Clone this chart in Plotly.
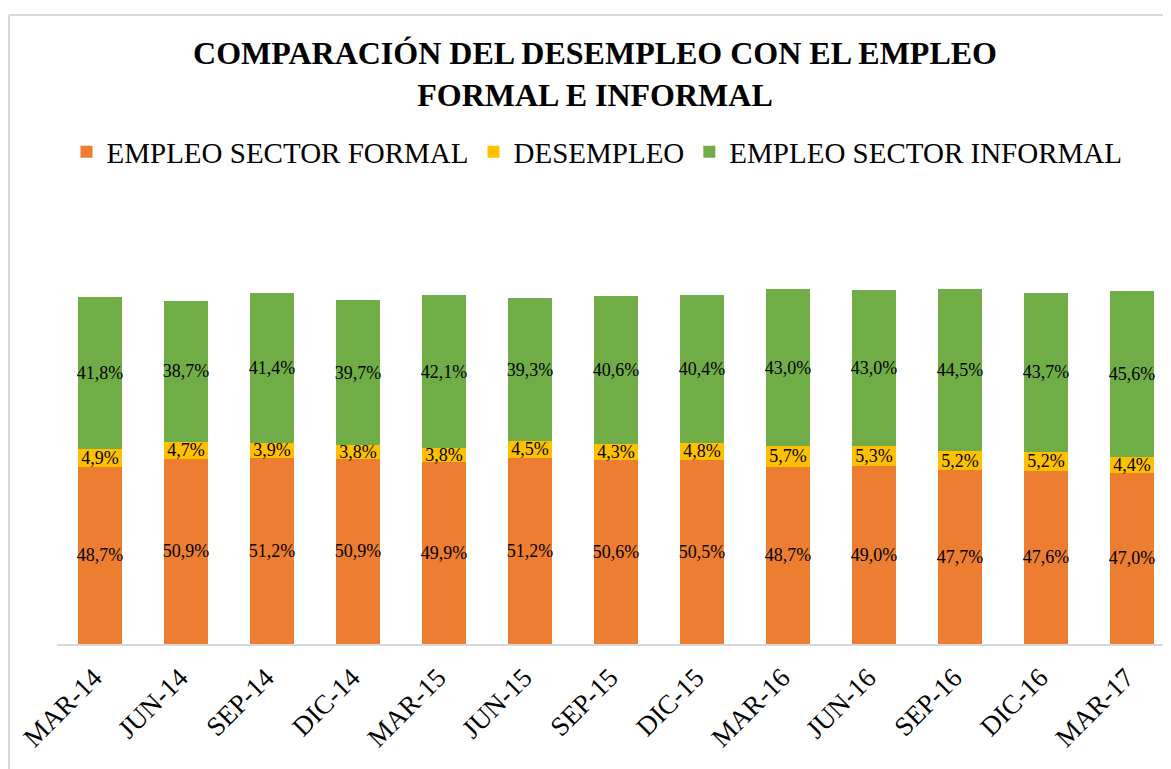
import plotly.graph_objects as go

categories = ["MAR-14", "JUN-14", "SEP-14", "DIC-14", "MAR-15", "JUN-15", "SEP-15",
              "DIC-15", "MAR-16", "JUN-16", "SEP-16", "DIC-16", "MAR-17"]
formal = [48.7, 50.9, 51.2, 50.9, 49.9, 51.2, 50.6, 50.5, 48.7, 49.0, 47.7, 47.6, 47.0]
desempleo = [4.9, 4.7, 3.9, 3.8, 3.8, 4.5, 4.3, 4.8, 5.7, 5.3, 5.2, 5.2, 4.4]
informal = [41.8, 38.7, 41.4, 39.7, 42.1, 39.3, 40.6, 40.4, 43.0, 43.0, 44.5, 43.7, 45.6]

series = [
    ("EMPLEO SECTOR FORMAL", formal, "#ED7D31"),
    ("DESEMPLEO", desempleo, "#FFC000"),
    ("EMPLEO SECTOR INFORMAL", informal, "#70AD47"),
]

FONT = "Liberation Serif, Times New Roman, serif"

fig = go.Figure()
for name, vals, color in series:
    fig.add_trace(go.Bar(
        name=name, x=categories, y=vals,
        marker=dict(color=color, line=dict(width=0)),
        text=[f"{v:.1f}%".replace(".", ",") for v in vals],
        textposition="inside", insidetextanchor="middle",
        constraintext="none", textangle=0, cliponaxis=False,
        textfont=dict(family=FONT, size=18, color="#000000"),
    ))

W, H = 1163, 761
L, R, T, B = 49, 0, 199, 125
pw, ph = W - L - R, H - T - B

fig.update_layout(
    width=W, height=H,
    barmode="stack", bargap=0.49,
    paper_bgcolor="white", plot_bgcolor="white",
    margin=dict(l=L, r=R, t=T, b=B, pad=0),
    font=dict(family=FONT, color="#000000"),
    title=dict(
        text="COMPARACIÓN DEL DESEMPLEO CON EL EMPLEO<br>FORMAL E INFORMAL",
        font=dict(family=FONT, size=32, color="#000000", weight="bold"),
        x=587 / W, xanchor="center", xref="container",
        y=1 - 56 / H, yanchor="middle", yref="container",
    ),
    legend=dict(
        orientation="h", x=589 / W, xanchor="center", xref="container",
        y=1 - 144 / H, yanchor="middle", yref="container",
        font=dict(family=FONT, size=29, color="#000000"),
        traceorder="normal", itemwidth=30, tracegroupgap=0,
    ),
    xaxis=dict(
        type="category", range=[-0.5, 12.5 - 4 / 86],
        showline=True, linecolor="#D9D9D9", linewidth=2,
        ticks="", tickangle=-45, ticklabelstandoff=5, ticklabelshift=-6,
        tickfont=dict(family=FONT, size=27, color="#000000"),
        showgrid=False, zeroline=False,
    ),
    yaxis=dict(range=[0, 120], visible=False, showgrid=False, zeroline=False),
    shapes=[
        dict(type="line", xref="paper", yref="paper",
             x0=(1 - L) / pw, x1=(1 - L) / pw,
             y0=(T + ph - 7) / ph, y1=-B / ph,
             line=dict(color="#D9D9D9", width=2)),
        dict(type="line", xref="paper", yref="paper",
             x0=(1 - L) / pw, x1=1.0,
             y0=(T + ph - 7) / ph, y1=(T + ph - 7) / ph,
             line=dict(color="#D9D9D9", width=2)),
    ],
)

fig.write_html("out.html")
